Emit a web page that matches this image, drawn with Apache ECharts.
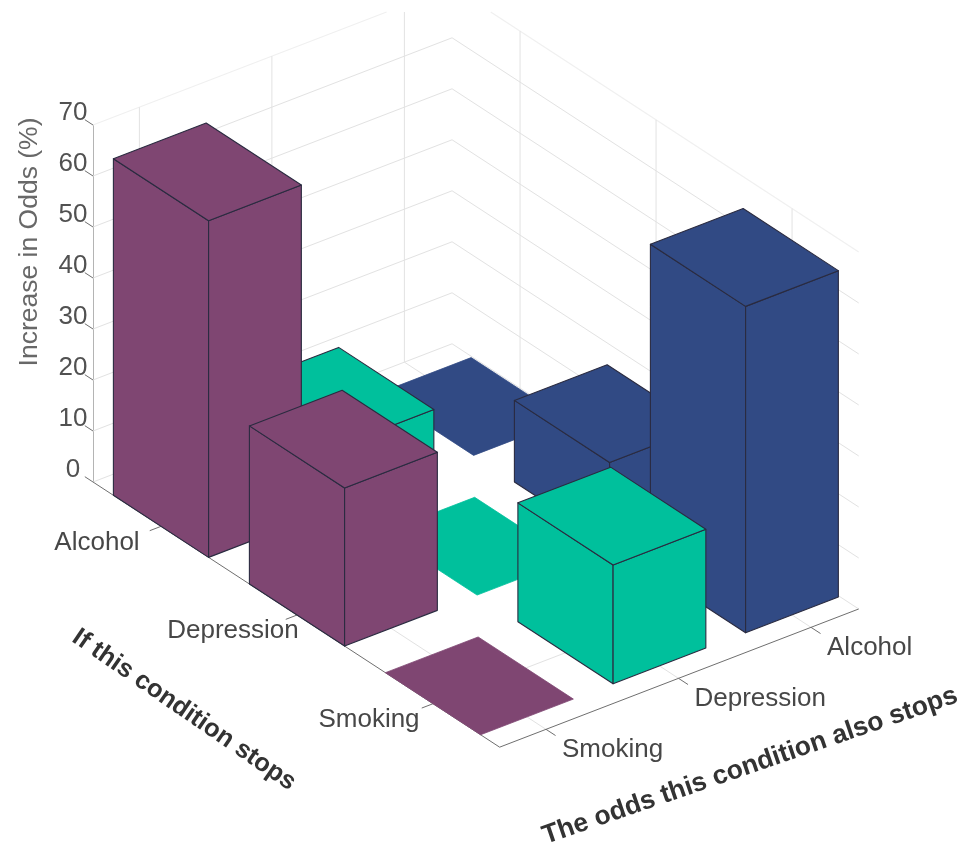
<!DOCTYPE html>
<html>
<head>
<meta charset="utf-8">
<style>html,body{margin:0;padding:0;background:#fff}#chart{width:967px;height:843px}</style>
<script src="https://cdn.jsdelivr.net/npm/echarts@6/dist/echarts.min.js"></script>
</head>
<body>
<div id="chart"></div>
<script>
// Odds of a condition stopping, given that another one stops (%).
const stopConditions = ['Alcohol', 'Depression', 'Smoking'];
const oddsConditions = ['Smoking', 'Depression', 'Alcohol'];
const smokingOdds = [66, 31, 0];
const depressionOdds = [12, 0, 23.3];
const alcoholOdds = [0, 16, 64];
const oddsRows = [smokingOdds, depressionOdds, alcoholOdds];
const rowColors = ['#7f4672', '#00c09c', '#314a84'];
const zTicks = [0, 10, 20, 30, 40, 50, 60, 70];

// Oblique projection onto the cartesian grid: one step along either category
// axis moves by a horizontal amount and by an equivalent number of z-axis units.
const U_STEP = [136, -17.39];
const V_STEP = [132.5, 10];
const U_MIN = -0.5, U_MAX = 2.49;
const V_MIN = -0.35, V_MAX = 2.36;
const BAR_HALF = 0.35;
const TOP_MARGIN = 12;

function project(api, u, v, z) {
  const du = u - U_MIN, dv = v - V_MIN;
  return api.coord([du * U_STEP[0] + dv * V_STEP[0], z + du * U_STEP[1] + dv * V_STEP[1]]);
}

// Painter's order: rows furthest from the viewer come first.
const barData = [];
oddsRows.forEach((row, v) => row.forEach((value, u) => barData.push([u, v, value])));
barData.sort((a, b) => (a[0] - a[1]) - (b[0] - b[1]));

function renderBar(params, api) {
  const u = api.value(0), v = api.value(1), h = api.value(2);
  const u0 = u - BAR_HALF, u1 = u + BAR_HALF, v0 = v - BAR_HALF, v1 = v + BAR_HALF;
  const fill = rowColors[v];
  const flat = h === 0;
  const face = pts => ({
    type: 'polygon',
    shape: { points: pts },
    style: { fill, stroke: flat ? fill : '#2a2b40', lineWidth: flat ? 0.8 : 1.1, lineJoin: 'round' }
  });
  const p = (a, b, z) => project(api, a, b, z);
  const children = [];
  if (!flat) {
    children.push(face([p(u0, v0, 0), p(u1, v0, 0), p(u1, v0, h), p(u0, v0, h)]));
    children.push(face([p(u1, v0, 0), p(u1, v1, 0), p(u1, v1, h), p(u1, v0, h)]));
  }
  children.push(face([p(u0, v0, h), p(u1, v0, h), p(u1, v1, h), p(u0, v1, h)]));
  return { type: 'group', children };
}

// Wall and floor rules, axis edges and tick marks, as 3D segments plus a style index.
const lineStyles = [
  { stroke: '#e2e2e2', lineWidth: 1 },
  { stroke: '#f0f0f0', lineWidth: 1.2 },
  { stroke: '#6f6f6f', lineWidth: 1 },
  { stroke: '#b4b4b4', lineWidth: 1 }
];
const segments = [];
zTicks.forEach(z => {
  const s = z === 70 ? 1 : 0;
  segments.push([U_MIN, V_MIN, z, U_MIN, V_MAX, z, s]);
  segments.push([U_MIN, V_MAX, z, U_MAX, V_MAX, z, s]);
  segments.push([U_MIN - 0.06, V_MIN, z, U_MIN, V_MIN, z, 2]);
});
stopConditions.forEach((_, u) => {
  segments.push([u, V_MIN, 0, u, V_MAX, 0, 0]);
  segments.push([u, V_MAX, 0, u, V_MAX, 70, 0]);
  segments.push([u, V_MIN - 0.085, 0, u, V_MIN, 0, 2]);
});
oddsConditions.forEach((_, v) => {
  segments.push([U_MIN, v, 0, U_MAX, v, 0, 0]);
  segments.push([U_MIN, v, 0, U_MIN, v, 70, 0]);
  segments.push([U_MAX, v, 0, U_MAX + 0.07, v, 0, 2]);
});
segments.push([U_MIN, V_MIN, 0, U_MAX, V_MIN, 0, 2]);
segments.push([U_MAX, V_MIN, 0, U_MAX, V_MAX, 0, 2]);

// Rules that run off the top of the plot are cut where they reach the margin.
function trimToTop(a, b) {
  if (a[1] >= TOP_MARGIN && b[1] >= TOP_MARGIN) return [a, b];
  const t = (TOP_MARGIN - a[1]) / (b[1] - a[1]);
  const cut = [a[0] + t * (b[0] - a[0]), TOP_MARGIN];
  return a[1] < TOP_MARGIN ? [cut, b] : [a, cut];
}

function renderSegment(params, api) {
  const a = project(api, api.value(0), api.value(1), api.value(2));
  const b = project(api, api.value(3), api.value(4), api.value(5));
  const pts = trimToTop(a, b);
  return {
    type: 'line',
    shape: { x1: pts[0][0], y1: pts[0][1], x2: pts[1][0], y2: pts[1][1] },
    style: Object.assign({ fill: null }, lineStyles[api.value(6)])
  };
}

// Category labels sit just outside the tick at each end of the floor.
const labelFont = { fontFamily: '"Liberation Sans", Arial, sans-serif', fontSize: 26, fill: '#474747' };
const stopLabelData = stopConditions.map((name, u) => [u, name]);
const oddsLabelData = oddsConditions.map((name, v) => [v, name]);
function renderStopLabel(params, api) {
  const at = project(api, api.value(0), V_MIN, 0);
  return { type: 'text', style: Object.assign({ text: stopConditions[api.value(0)], x: at[0] - 64, y: at[1] + 16, align: 'center', verticalAlign: 'middle' }, labelFont) };
}
function renderOddsLabel(params, api) {
  const at = project(api, U_MAX, api.value(0), 0);
  return { type: 'text', style: Object.assign({ text: oddsConditions[api.value(0)], x: at[0] + 16, y: at[1] + 20.5, align: 'left', verticalAlign: 'middle' }, labelFont) };
}

const titleFont = { fontFamily: '"Liberation Sans", Arial, sans-serif', fontWeight: 'bold', fill: '#333', align: 'center', verticalAlign: 'middle' };

const chart = echarts.init(document.getElementById('chart'), null, { renderer: 'canvas' });
chart.setOption({
  animation: false,
  backgroundColor: '#fff',
  grid: { left: 93, top: 125, width: 774, height: 357, containLabel: false },
  xAxis: { type: 'value', min: 0, max: 774, show: false },
  yAxis: {
    type: 'value', min: 0, max: 70, interval: 10,
    axisLine: { show: true, lineStyle: { color: '#b4b4b4', width: 1 } },
    axisTick: { show: false },
    splitLine: { show: false },
    axisLabel: {
      color: '#515151', fontFamily: '"Liberation Sans", Arial, sans-serif', fontSize: 26,
      margin: 20, align: 'center', verticalAlign: 'bottom', lineHeight: 24
    }
  },
  series: [
    { type: 'custom', data: segments, renderItem: renderSegment, clip: false, silent: true, z: 1 },
    { type: 'custom', data: stopLabelData, renderItem: renderStopLabel, clip: false, silent: true, z: 3, encode: { x: 0, y: 0 } },
    { type: 'custom', data: oddsLabelData, renderItem: renderOddsLabel, clip: false, silent: true, z: 3, encode: { x: 0, y: 0 } },
    { type: 'custom', data: barData, renderItem: renderBar, clip: false, silent: true, z: 2 }
  ],
  graphic: [
    { type: 'text', x: 30, y: 242, rotation: Math.PI / 2, silent: true,
      style: { text: 'Increase in Odds (%)', fontFamily: '"Liberation Sans", Arial, sans-serif', fontSize: 26.5, fill: '#686868', align: 'center', verticalAlign: 'middle' } },
    { type: 'text', x: 184, y: 710, rotation: -34.5 * Math.PI / 180, silent: true,
      style: Object.assign({ text: 'If this condition stops', fontSize: 25.5 }, titleFont) },
    { type: 'text', x: 750, y: 766, rotation: 19 * Math.PI / 180, silent: true,
      style: Object.assign({ text: 'The odds this condition also stops', fontSize: 26.5 }, titleFont) }
  ]
});
</script>
</body>
</html>
